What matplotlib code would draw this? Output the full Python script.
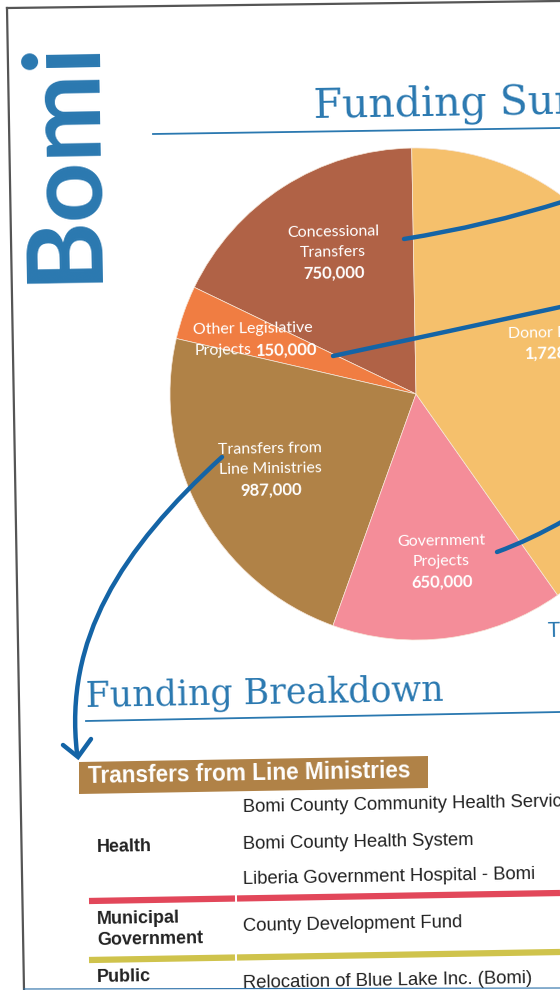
import matplotlib.pyplot as plt
from matplotlib.path import Path
from matplotlib.patches import PathPatch, Polygon

# pie data
sources = ['Concessional\nTransfers', 'Other Legislative\nProjects', 'Transfers from\nLine Ministries',
           'Government\nProjects', 'Donor Projects']
amounts = [750000, 150000, 987000, 650000, 1728000]
slice_colors = ['#b06246', '#f07d42', '#b08247', '#f48d99', '#f5c06c']

# breakdown table
sectors = ['Health', 'Municipal\nGovernment', 'Public']
projects = [['Bomi County Community Health Services', 'Bomi County Health System',
             'Liberia Government Hospital - Bomi'],
            ['County Development Fund'],
            ['Relocation of Blue Lake Inc. (Bomi)']]

blue = '#2a78b0'
line_blue = '#1464a6'
W, H = 560, 990
tilt = 1.0

fig = plt.figure(figsize=(W / 100, H / 100), dpi=100)
ax = fig.add_axes([0, 0, 1, 1])
ax.set_xlim(0, W)
ax.set_ylim(H, 0)
ax.axis('off')

# page border
ax.plot([7, 560], [8, 1], color='#555555', lw=1.6)
ax.plot([7, 24], [8, 990], color='#555555', lw=1.6)
ax.plot([24, 560], [989, 988], color='#2a6fa8', lw=0.8)

# side title
ax.text(63, 160, 'Bomi', rotation=90 + tilt, fontsize=76, fontweight='bold', family='Lato',
        color=blue, ha='center', va='center')

# title
ax.text(314, 118, 'Funding Summary', fontsize=29.5, family='DejaVu Serif', color=blue,
        ha='left', va='baseline', rotation=tilt, rotation_mode='anchor')
ax.plot([153, 560], [134, 128], color=blue, lw=1.3)

# pie
cx, cy, r = 416, 394, 246
pax = fig.add_axes([(cx - r) / W, 1 - (cy + r) / H, 2 * r / W, 2 * r / H], zorder=1)
pax.pie(amounts, colors=slice_colors, startangle=91, counterclock=True, radius=1,
        wedgeprops=dict(edgecolor='#f6e6d8', linewidth=0.5))
pax.set_xlim(-1, 1)
pax.set_ylim(-1, 1)
pax.set_aspect('auto')
pax.axis('off')

top = fig.add_axes([0, 0, 1, 1], zorder=2)
top.set_xlim(0, W)
top.set_ylim(H, 0)
top.axis('off')
top.patch.set_alpha(0)

# slice labels
label_pos = [(333, 232), (193, 330), (270, 449), (441, 541), (508, 334)]
lab_font = 'Lato'
fs, fsb = 11.5, 12
for name, val, (lx, ly) in zip(sources, amounts, label_pos):
    lines = name.split('\n')
    num = f'{val:,}'
    if name.startswith('Other'):
        top.text(lx, ly, lines[0], fontsize=fs, family=lab_font, color='white',
                 ha='left', va='center', rotation=tilt, rotation_mode='anchor')
        top.text(lx + 1, ly + 21, lines[1], fontsize=fs, family=lab_font, color='white',
                 ha='left', va='center', rotation=tilt, rotation_mode='anchor')
        top.text(lx + 63, ly + 21, num, fontsize=fsb, family=lab_font, fontweight='bold',
                 color='white', ha='left', va='center', rotation=tilt, rotation_mode='anchor')
    elif name.startswith('Donor'):
        top.text(lx, ly, name, fontsize=fs, family=lab_font, color='white',
                 ha='left', va='center', rotation=tilt, rotation_mode='anchor')
        top.text(lx + 17, ly + 20, num, fontsize=fsb, family=lab_font, fontweight='bold',
                 color='white', ha='left', va='center', rotation=tilt, rotation_mode='anchor')
    else:
        for i, ln in enumerate(lines):
            top.text(lx, ly + 20.5 * i, ln, fontsize=fs, family=lab_font, color='white',
                     ha='center', va='center', rotation=tilt, rotation_mode='anchor')
        top.text(lx + 1, ly + 41, num, fontsize=fsb, family=lab_font, fontweight='bold',
                 color='white', ha='center', va='center', rotation=tilt, rotation_mode='anchor')

top.text(548, 630, f'Total: {sum(amounts):,}', fontsize=15, family='Lato', color=blue,
         ha='left', va='center', rotation=tilt, rotation_mode='anchor')


# callout lines
def curve(pts, codes):
    top.add_patch(PathPatch(Path(pts, codes), fill=False, edgecolor=line_blue, lw=3.2,
                            capstyle='round', clip_on=False))


Q = [Path.MOVETO, Path.CURVE3, Path.CURVE3]
curve([(404, 239), (486, 226), (565, 201)], Q)
curve([(333, 356), (450, 331), (565, 306)], Q)
curve([(497, 552), (530, 540), (565, 520)], Q)
curve([(222, 457), (120, 550), (64, 640), (77, 753)],
      [Path.MOVETO, Path.CURVE4, Path.CURVE4, Path.CURVE4])
top.plot([63, 78, 91], [745, 757, 739], color=line_blue, lw=3.2, solid_capstyle='round',
         solid_joinstyle='miter')

# breakdown section
ax.text(86, 707, 'Funding Breakdown', fontsize=25, family='DejaVu Serif', color=blue,
        ha='left', va='baseline', rotation=tilt, rotation_mode='anchor')
ax.plot([86, 560], [721, 712], color=blue, lw=1.3)

ax.add_patch(Polygon([(79, 762), (428, 756), (428, 788), (79, 794)], closed=True,
                     facecolor='#b08247', edgecolor='none'))
ax.text(88, 783, 'Transfers from Line Ministries', fontsize=16.3, family='Liberation Sans',
        fontweight='bold', color='white', ha='left', va='baseline', rotation=tilt,
        rotation_mode='anchor')

sector_y = [848, 930, 978]
project_y = [[808, 845, 880], [927], [984]]
sep_y = [(901, 893, '#e2475a'), (960, 952, '#cfc34c')]
for sec, sy in zip(sectors, sector_y):
    sl = sec.split('\n')
    for i, s in enumerate(sl):
        yy = sy - 10 * (len(sl) - 1) + 21 * i
        ax.text(97, yy, s, fontsize=13, family='Liberation Sans', fontweight='bold',
                color='#222222', ha='left', va='center', rotation=tilt, rotation_mode='anchor')
for plist, ylist in zip(projects, project_y):
    for p, py in zip(plist, ylist):
        ax.text(243, py, p, fontsize=13.3, family='Liberation Sans', color='#222222',
                ha='left', va='center', rotation=tilt, rotation_mode='anchor')
for yl, yr, c in sep_y:
    k = (yr - yl) / (560 - 89)
    ax.plot([89, 235], [yl, yl + k * 146], color=c, lw=4.5, solid_capstyle='butt')
    ax.plot([237, 560], [yl + k * 148, yr], color=c, lw=4.5, solid_capstyle='butt')

fig.savefig('out.png', dpi=100)
